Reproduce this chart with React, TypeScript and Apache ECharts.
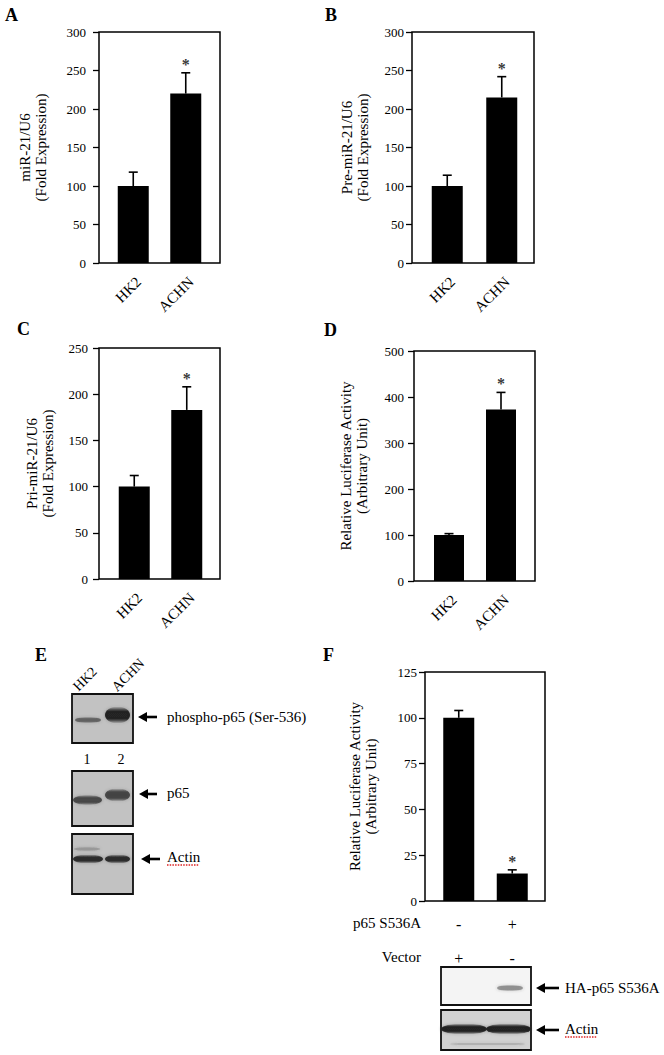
import React, { useEffect, useRef } from "react";
import * as echarts from "echarts";

// ---------- data ----------
const categories = ["HK2", "ACHN"];
const miR21Mean = [100, 220];
const miR21Upper = [118, 247];
const preMiR21Mean = [100, 215];
const preMiR21Upper = [114, 242];
const priMiR21Mean = [100, 183];
const priMiR21Upper = [112, 208];
const luciferaseMean = [100, 373];
const luciferaseUpper = [103, 410];
const significant = [false, true];

const mutantCategories = ["Vector", "p65 S536A"];
const mutantMean = [100, 15];
const mutantUpper = [104, 17];
const mutantSignificant = [false, true];
const p65S536ARow = ["-", "+"];
const vectorRow = ["+", "-"];

const ticksA = { min: 0, max: 300, interval: 50 };
const ticksB = { min: 0, max: 300, interval: 50 };
const ticksC = { min: 0, max: 250, interval: 50 };
const ticksD = { min: 0, max: 500, interval: 100 };
const ticksF = { min: 0, max: 125, interval: 25 };

const serif = "'Liberation Serif', 'Times New Roman', serif";

type Panel = {
  mean: number[];
  upper: number[];
  sig: boolean[];
  cats: string[];
  ticks: { min: number; max: number; interval: number };
  title: string;
  frame: [number, number, number, number];
  gridLeft: number;
  gridWidth: number;
  nameGap: number;
  labelMargin: number;
  barWidth: number;
};

const panels: Panel[] = [
  {
    mean: miR21Mean, upper: miR21Upper, sig: significant, cats: categories, ticks: ticksA,
    title: "miR-21/U6\n(Fold Expression)", frame: [99, 32, 121, 231], gridLeft: 107, gridWidth: 105,
    nameGap: 50, labelMargin: 13, barWidth: 31,
  },
  {
    mean: preMiR21Mean, upper: preMiR21Upper, sig: significant, cats: categories, ticks: ticksB,
    title: "Pre-miR-21/U6\n(Fold Expression)", frame: [412, 32, 122, 231], gridLeft: 420, gridWidth: 109,
    nameGap: 41, labelMargin: 8, barWidth: 31,
  },
  {
    mean: priMiR21Mean, upper: priMiR21Upper, sig: significant, cats: categories, ticks: ticksC,
    title: "Pri-miR-21/U6\n(Fold Expression)", frame: [99, 348, 121, 231], gridLeft: 108, gridWidth: 105,
    nameGap: 43, labelMargin: 11, barWidth: 31,
  },
  {
    mean: luciferaseMean, upper: luciferaseUpper, sig: significant, cats: categories, ticks: ticksD,
    title: "Relative Luciferase Activity\n(Arbitrary Unit)", frame: [414, 351, 121, 230], gridLeft: 423, gridWidth: 104,
    nameGap: 44, labelMargin: 10, barWidth: 30,
  },
  {
    mean: mutantMean, upper: mutantUpper, sig: mutantSignificant, cats: mutantCategories, ticks: ticksF,
    title: "Relative Luciferase Activity\n(Arbitrary Unit)", frame: [425, 672, 120, 229], gridLeft: 432, gridWidth: 107,
    nameGap: 46, labelMargin: 8, barWidth: 31,
  },
];

function textEl(text: string, x: number, y: number, opts: any = {}) {
  return {
    type: "text",
    x,
    y,
    rotation: opts.rotation || 0,
    z: 20,
    style: {
      text,
      fill: opts.fill || "#000",
      font: `${opts.weight || "normal"} ${opts.size || 15}px ${serif}`,
      textAlign: opts.align || "left",
      textVerticalAlign: opts.valign || "middle",
    },
  };
}

function arrowEls(tipX: number, endX: number, y: number) {
  return [
    {
      type: "polygon",
      z: 20,
      shape: { points: [[tipX, y], [tipX + 9, y - 5], [tipX + 9, y + 5]] },
      style: { fill: "#000" },
    },
    {
      type: "line",
      z: 20,
      shape: { x1: tipX + 8, y1: y, x2: endX, y2: y },
      style: { stroke: "#000", lineWidth: 2.6 },
    },
  ];
}

function bandEl(x: number, y: number, w: number, h: number, color: string) {
  return {
    type: "ellipse",
    z: 16,
    shape: { cx: x + w / 2, cy: y, rx: w / 2, ry: h / 2 },
    style: {
      fill: {
        type: "linear", x: 0, y: 0, x2: 0, y2: 1,
        colorStops: [
          { offset: 0, color: "rgba(0,0,0,0)" },
          { offset: 0.3, color },
          { offset: 0.7, color },
          { offset: 1, color: "rgba(0,0,0,0)" },
        ],
      },
      shadowBlur: 3,
      shadowColor: "rgba(60,60,60,0.5)",
    },
  };
}

function blotBox(x: number, y: number, w: number, h: number, fill: string) {
  return {
    type: "rect",
    z: 15,
    shape: { x, y, width: w, height: h },
    style: { fill, stroke: "#111", lineWidth: 1.8 },
  };
}

function squiggle(x1: number, x2: number, y: number) {
  return {
    type: "line",
    z: 20,
    shape: { x1, y1: y, x2, y2: y },
    style: { stroke: "#d22", lineWidth: 1.6, lineDash: [1.5, 1.2] },
  };
}

export default function App() {
  const ref = useRef<HTMLDivElement>(null);

  useEffect(() => {
    if (!ref.current) return;
    const chart = echarts.init(ref.current, undefined, { renderer: "svg" });

    const grid: any[] = [];
    const xAxis: any[] = [];
    const yAxis: any[] = [];
    const series: any[] = [];

    panels.forEach((p, i) => {
      const isF = i === 4;
      grid.push({ left: p.gridLeft, top: p.frame[1], width: p.gridWidth, height: p.frame[3] });
      xAxis.push({
        type: "category",
        gridIndex: i,
        position: "bottom",
        data: p.cats,
        axisLine: { show: false },
        axisTick: { show: false },
        axisLabel: isF
          ? {
              interval: 0, margin: 15, fontSize: 16, fontFamily: serif, color: "#000",
              formatter: (_v: string, idx: number) => p65S536ARow[idx],
            }
          : {
              interval: 0, rotate: 45, margin: 11, fontSize: 15, fontFamily: serif, color: "#000",
              verticalAlign: "top",
            },
      });
      yAxis.push({
        type: "value",
        gridIndex: i,
        min: p.ticks.min,
        max: p.ticks.max,
        interval: p.ticks.interval,
        offset: p.gridLeft - p.frame[0],
        axisLine: { show: false },
        axisTick: { show: true, length: 6, lineStyle: { color: "#000", width: 1.3 } },
        axisLabel: { color: "#000", fontSize: 13, fontFamily: serif, margin: p.labelMargin },
        splitLine: { show: false },
        name: p.title,
        nameLocation: "middle",
        nameRotate: 90,
        nameGap: p.nameGap,
        nameTextStyle: { fontSize: 15, fontFamily: serif, color: "#000", lineHeight: 16 },
      });
      series.push({
        type: "bar",
        xAxisIndex: i,
        yAxisIndex: i,
        data: p.mean,
        barWidth: p.barWidth,
        itemStyle: { color: "#000" },
      });
      // error bars (upper only)
      series.push({
        type: "custom",
        xAxisIndex: i,
        yAxisIndex: i,
        z: 5,
        itemStyle: { color: "#000" },
        encode: { x: 0, y: [1, 2] },
        data: p.mean.map((m, k) => [k, m, p.upper[k]]),
        renderItem: (_params: any, api: any) => {
          const k = api.value(0);
          const base = api.coord([k, api.value(1)]);
          const top = api.coord([k, api.value(2)]);
          return {
            type: "group",
            children: [
              { type: "line", shape: { x1: base[0], y1: base[1], x2: base[0], y2: top[1] }, style: { stroke: "#000", lineWidth: 1.6 } },
              { type: "line", shape: { x1: base[0] - 4.5, y1: top[1], x2: base[0] + 4.5, y2: top[1] }, style: { stroke: "#000", lineWidth: 1.6 } },
            ],
          };
        },
      });
      // significance asterisks above the error bars
      series.push({
        type: "scatter",
        xAxisIndex: i,
        yAxisIndex: i,
        z: 6,
        symbolSize: 1,
        itemStyle: { color: "rgba(0,0,0,0)" },
        data: p.upper.map((u, k) => (p.sig[k] ? [k, u] : null)).filter((d) => d !== null),
        label: {
          show: true,
          formatter: "*",
          position: "top",
          distance: 0,
          color: "#000",
          fontSize: 16,
          fontWeight: "bold",
          fontFamily: serif,
        },
      });
    });

    // second row of +/- labels for panel F
    xAxis.push({
      type: "category",
      gridIndex: 4,
      position: "bottom",
      data: mutantCategories,
      offset: 34,
      axisLine: { show: false },
      axisTick: { show: false },
      axisLabel: {
        interval: 0, margin: 15, fontSize: 16, fontFamily: serif, color: "#000",
        formatter: (_v: string, idx: number) => vectorRow[idx],
      },
    });

    const graphic: any[] = [];
    // plot frames
    panels.forEach((p) => {
      graphic.push({
        type: "rect",
        z: 10,
        shape: { x: p.frame[0], y: p.frame[1], width: p.frame[2], height: p.frame[3] },
        style: { fill: "none", stroke: "#000", lineWidth: 1.5 },
      });
    });
    // panel letters
    graphic.push(textEl("A", 5, 15, { weight: "bold", size: 18 }));
    graphic.push(textEl("B", 325, 15, { weight: "bold", size: 18 }));
    graphic.push(textEl("C", 17, 329, { weight: "bold", size: 18 }));
    graphic.push(textEl("D", 324, 330, { weight: "bold", size: 18 }));
    graphic.push(textEl("E", 35, 655, { weight: "bold", size: 18 }));
    graphic.push(textEl("F", 323, 655, { weight: "bold", size: 18 }));

    // ----- panel E western blots -----
    graphic.push(textEl("HK2", 85, 679, { size: 14, align: "center", rotation: Math.PI / 4 }));
    graphic.push(textEl("ACHN", 128, 675, { size: 14, align: "center", rotation: Math.PI / 4 }));
    graphic.push(blotBox(72, 694, 61, 49, "#c2c2c2"));
    graphic.push(bandEl(75, 720, 26, 6, "rgba(70,70,70,0.7)"));
    graphic.push(bandEl(105, 715, 25, 17, "rgba(30,30,30,0.95)"));
    graphic.push(textEl("1", 87, 759, { size: 14, align: "center" }));
    graphic.push(textEl("2", 121, 759, { size: 14, align: "center" }));
    graphic.push(blotBox(72, 771, 61, 55, "#c2c2c2"));
    graphic.push(bandEl(73, 800, 29, 10, "rgba(60,60,60,0.85)"));
    graphic.push(bandEl(105, 795, 25, 13, "rgba(55,55,55,0.85)"));
    graphic.push(blotBox(72, 834, 61, 60, "#c2c2c2"));
    graphic.push(bandEl(74, 849, 26, 4, "rgba(100,100,100,0.35)"));
    graphic.push(bandEl(73, 859, 30, 9, "rgba(40,40,40,0.95)"));
    graphic.push(bandEl(105, 859, 25, 9, "rgba(40,40,40,0.95)"));
    graphic.push(...arrowEls(138, 157, 717));
    graphic.push(...arrowEls(139, 157, 794));
    graphic.push(...arrowEls(141, 160, 859));
    graphic.push(textEl("phospho-p65 (Ser-536)", 167, 717));
    graphic.push(textEl("p65", 167, 793));
    graphic.push(textEl("Actin", 167, 857));
    graphic.push(squiggle(167, 199, 865));

    // ----- panel F rows and blots -----
    graphic.push(textEl("p65 S536A", 421, 923, { align: "right" }));
    graphic.push(textEl("Vector", 421, 957, { align: "right" }));
    graphic.push(blotBox(441, 967, 90, 38, "#f4f4f4"));
    graphic.push(bandEl(497, 988, 26, 6, "rgba(120,120,120,0.7)"));
    graphic.push(blotBox(441, 1010, 90, 40, "#d2d2d2"));
    graphic.push(bandEl(441, 1029, 46, 11, "rgba(30,30,30,0.95)"));
    graphic.push(bandEl(486, 1029, 45, 11, "rgba(30,30,30,0.95)"));
    graphic.push(bandEl(450, 1044, 75, 3, "rgba(120,120,120,0.3)"));
    graphic.push(...arrowEls(536, 559, 988));
    graphic.push(...arrowEls(536, 559, 1030));
    graphic.push(textEl("HA-p65 S536A", 565, 988));
    graphic.push(textEl("Actin", 565, 1029));
    graphic.push(squiggle(565, 597, 1037));

    chart.setOption({
      animation: false,
      backgroundColor: "#fff",
      textStyle: { fontFamily: serif },
      grid,
      xAxis,
      yAxis,
      series,
      graphic,
    });

    return () => chart.dispose();
  }, []);

  return (
    <div
      ref={ref}
      style={{ position: "absolute", left: 0, top: 0, width: 664, height: 1055, background: "#fff" }}
    />
  );
}
